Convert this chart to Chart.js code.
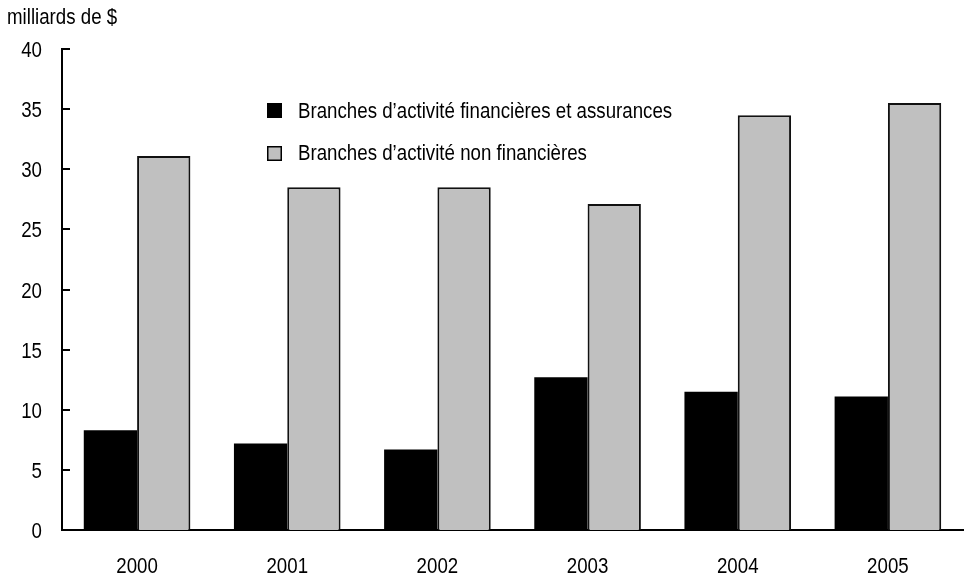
<!DOCTYPE html>
<html>
<head>
<meta charset="utf-8">
<script src="https://cdn.jsdelivr.net/npm/chart.js@4"></script>
<style>
  html, body { margin: 0; padding: 0; background: #fff; }
  #wrap { width: 969px; height: 576px; }
</style>
</head>
<body>
<div id="wrap"><canvas id="barChart" width="969" height="576"></canvas></div>
<script>
const years = ['2000', '2001', '2002', '2003', '2004', '2005'];
const financieres = [8.3, 7.2, 6.7, 12.7, 11.5, 11.1];
const nonFinancieres = [31.1, 28.5, 28.5, 27.1, 34.5, 35.5];
const yTicks = [0, 5, 10, 15, 20, 25, 30, 35, 40];

const FONT = '22px "Liberation Sans", Arial, sans-serif';
const NARROW = 0.85;

// condensed-looking text: squeeze the glyphs horizontally
function narrowText(ctx, text, x, y, align) {
  ctx.save();
  ctx.font = FONT;
  ctx.fillStyle = '#000';
  ctx.textBaseline = 'alphabetic';
  ctx.textAlign = align;
  ctx.translate(x, y);
  ctx.scale(NARROW, 1);
  ctx.fillText(text, 0, 0);
  ctx.restore();
}

// axis labels, inner tick marks, unit label and the legend inside the plot
const decorations = {
  id: 'decorations',
  afterDraw(chart) {
    const ctx = chart.ctx;
    const x = chart.scales.x;
    const y = chart.scales.y;
    const area = chart.chartArea;
    ctx.save();

    ctx.strokeStyle = '#000';
    ctx.lineWidth = 2;
    y.ticks.forEach(t => {
      const py = Math.round(y.getPixelForValue(t.value));
      ctx.beginPath();
      ctx.moveTo(area.left, py);
      ctx.lineTo(area.left + 8, py);
      ctx.stroke();
      narrowText(ctx, String(t.value), area.left - 20, py + 8, 'right');
    });

    x.ticks.forEach((t, i) => {
      narrowText(ctx, chart.data.labels[i], x.getPixelForTick(i), area.bottom + 43, 'center');
    });

    narrowText(ctx, 'milliards de $', 7, 24, 'left');

    const lx = 267, squares = [103, 146], baselines = [118, 160];
    chart.data.datasets.forEach((ds, i) => {
      ctx.fillStyle = ds.backgroundColor;
      ctx.fillRect(lx, squares[i], 15, 15);
      if (ds.borderWidth) {
        ctx.strokeStyle = '#000';
        ctx.lineWidth = 1.5;
        ctx.strokeRect(lx + 0.75, squares[i] + 0.75, 13.5, 13.5);
      }
      narrowText(ctx, ds.label, 298, baselines[i], 'left');
    });
    ctx.restore();
  }
};

new Chart(document.getElementById('barChart').getContext('2d'), {
  type: 'bar',
  data: {
    labels: years,
    datasets: [
      {
        label: 'Branches d\u2019activité financières et assurances',
        data: financieres,
        backgroundColor: '#000000',
        borderWidth: 0
      },
      {
        label: 'Branches d\u2019activité non financières',
        data: nonFinancieres,
        backgroundColor: '#c0c0c0',
        borderColor: '#111111',
        borderWidth: 2
      }
    ]
  },
  options: {
    responsive: false,
    animation: false,
    layout: { padding: { top: 49, right: 6, left: 0, bottom: 0 } },
    categoryPercentage: 0.71,
    barPercentage: 1.0,
    plugins: {
      legend: { display: false },
      tooltip: { enabled: false }
    },
    scales: {
      x: {
        afterFit(scale) { scale.height = 46; },
        grid: { display: false, drawTicks: false },
        border: { display: true, color: '#000', width: 2 },
        ticks: { display: false }
      },
      y: {
        min: 0,
        max: 40,
        afterFit(scale) { scale.width = 62; },
        afterBuildTicks(scale) { scale.ticks = yTicks.map(v => ({ value: v })); },
        grid: { display: false, drawTicks: false },
        border: { display: true, color: '#000', width: 2 },
        ticks: { display: false }
      }
    }
  },
  plugins: [decorations]
});
</script>
</body>
</html>
